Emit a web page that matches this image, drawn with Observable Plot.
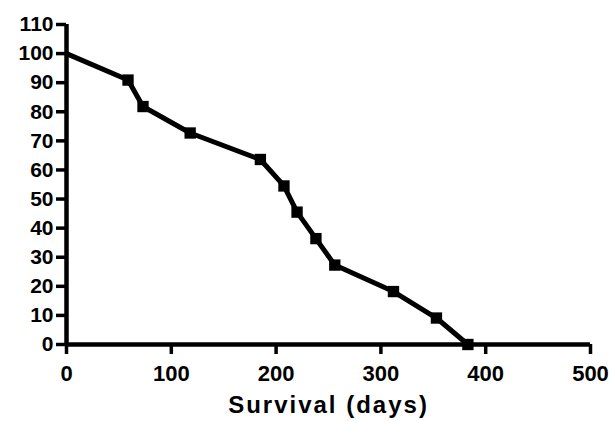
<!DOCTYPE html>
<html>
<head>
<meta charset="utf-8">
<script src="https://cdn.jsdelivr.net/npm/d3@7"></script>
<script src="https://cdn.jsdelivr.net/npm/@observablehq/plot@0.6"></script>
<style>
  html, body { margin: 0; padding: 0; background: #fff; }
  #chart { width: 611px; height: 421px; }
</style>
</head>
<body>
<div id="chart"></div>
<script>
const days     = [0, 58.7, 73, 118, 185, 207.5, 220, 238, 256, 312, 353, 383];
const survival = [100, 90.9, 81.8, 72.7, 63.6, 54.5, 45.5, 36.4, 27.3, 18.2, 9.1, 0];
const xTicks = [0, 100, 200, 300, 400, 500];
const yTicks = [0, 10, 20, 30, 40, 50, 60, 70, 80, 90, 100, 110];
const xLabel = "Survival (days)";

const data = days.map((d, i) => ({ days: d, survival: survival[i] }));
const markers = data.slice(1);

const font = "'Liberation Sans', Arial, Helvetica, sans-serif";

const chart = Plot.plot({
  width: 611,
  height: 421,
  marginLeft: 66,
  marginRight: 21,
  marginTop: 24,
  marginBottom: 77,
  style: { fontFamily: font, background: "#fff", color: "#000" },
  x: { domain: [0, 500], axis: null },
  y: { domain: [0, 110], axis: null },
  marks: [
    Plot.axisY({
      ticks: yTicks, tickSize: 10, tickPadding: 3, strokeWidth: 3.5,
      fontSize: 21, fontWeight: "bold", label: null
    }),
    Plot.axisX({
      ticks: xTicks, tickSize: 10, tickPadding: 11, strokeWidth: 3.5,
      fontSize: 22, fontWeight: "bold", label: null
    }),
    Plot.ruleX([0], { strokeWidth: 4.5, stroke: "#000" }),
    Plot.ruleY([0], { strokeWidth: 4.5, stroke: "#000", x1: 0, x2: 500 }),
    Plot.line(data, { x: "days", y: "survival", stroke: "#000", strokeWidth: 5, strokeLinejoin: "miter" }),
    Plot.dot(markers, { x: "days", y: "survival", symbol: "square", r: 6.4, fill: "#000", stroke: "none" }),
    Plot.text([xLabel], {
      frameAnchor: "bottom", dy: 61, fontSize: 24, fontWeight: "bold",
      fill: "#000", lineAnchor: "middle"
    })
  ]
});
chart.querySelectorAll("text").forEach(t => {
  if (t.textContent === xLabel) t.setAttribute("letter-spacing", "2");
});
document.getElementById("chart").appendChild(chart);
</script>
</body>
</html>
